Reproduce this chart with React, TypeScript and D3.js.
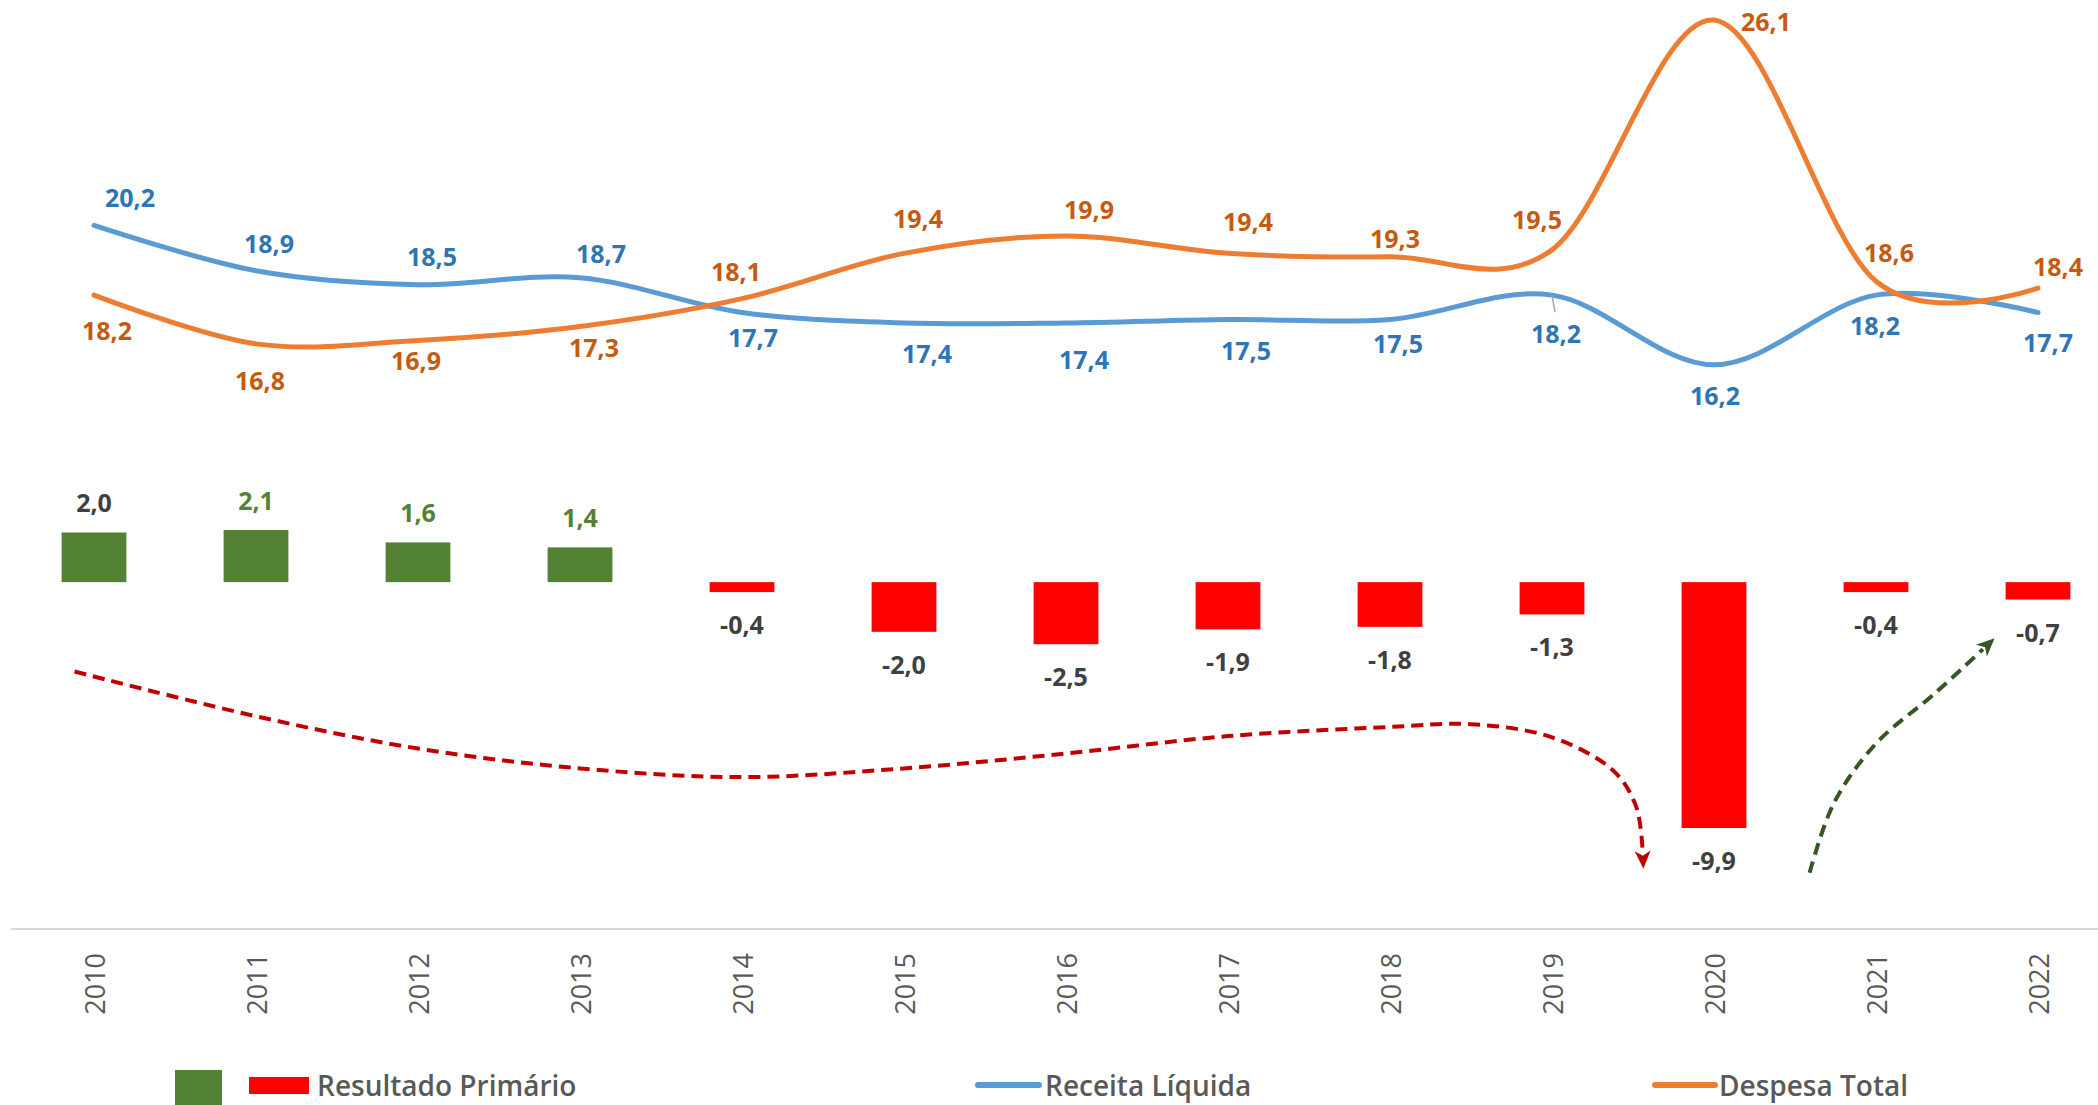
import * as d3 from 'd3';

/* ── data ── */
const years = ['2010', '2011', '2012', '2013', '2014', '2015', '2016', '2017', '2018', '2019', '2020', '2021', '2022'];
const receita = [20.2, 18.9, 18.5, 18.7, 17.7, 17.4, 17.4, 17.5, 17.5, 18.2, 16.2, 18.2, 17.7];
const despesa = [18.2, 16.8, 16.9, 17.3, 18.1, 19.4, 19.9, 19.4, 19.3, 19.5, 26.1, 18.6, 18.4];
const resultado = [2.0, 2.1, 1.6, 1.4, -0.4, -2.0, -2.5, -1.9, -1.8, -1.3, -9.9, -0.4, -0.7];

/* label nudges (px) relative to each point, as placed in the original */
const receitaLabelOff = [[36, -28], [13, -28], [14, -29], [21, -25], [11, 24], [23, 30], [18, 36], [18, 30], [8, 23], [4, 38], [1, 30], [-1, 30], [10, 29]];
const despesaLabelOff = [[13, 35], [4, 36], [-2, 20], [14, 21], [-6, -28], [14, -35], [23, -27], [20, -32], [5, -19], [-15, -31], [52, 1], [13, -29], [20, -22]];

/* annotation arrows: [category index, primary-result units] */
const redArrow = [[-0.12, -3.6], [1, -5.4], [2, -6.7], [3, -7.5], [4, -7.85], [5, -7.5], [6, -6.9], [7, -6.2], [8, -5.83], [8.5, -5.72], [9, -6.25], [9.38, -7.6], [9.52, -9.05], [9.56, -10.9]];
const greenArrow = [[10.59, -11.7], [10.74, -8.9], [11.0, -6.5], [11.36, -4.5], [11.66, -2.7]];

const W = 2098, H = 1105;
const C = {
  blue: '#5b9bd5', blueTxt: '#2e75b6',
  orange: '#ed7d31', orangeTxt: '#c55a11',
  green: '#548235', red: '#ff0000', dark: '#404040', axis: '#595959',
};
const fmt = d3.formatLocale({ decimal: ',', thousands: '.', grouping: [3], currency: ['R$', ''], minus: '-' }).format('.1f');

export default function App() {
  const x = d3.scaleBand().domain(years).range([13, 2119]).paddingInner(0.6).paddingOuter(0.3);
  const xc = (y: string) => (x(y) as number) + x.bandwidth() / 2;
  const xi = d3.scaleLinear().domain([0, years.length - 1]).range([xc(years[0]), xc(years[years.length - 1])]);
  const yLine = d3.scaleLinear().domain([0, 26.1]).range([929, 20]);
  const yBar = d3.scaleLinear().domain([-9.9, 2.1]).range([828, 530]);

  const line = d3.line<number>().x((_, i) => xc(years[i])).y(d => yLine(d)).curve(d3.curveCardinal.tension(0));
  const arrow = d3.line<number[]>().x(d => xi(d[0])).y(d => yBar(d[1])).curve(d3.curveCatmullRom.alpha(0.5));

  const lbl = { fontFamily: "'Open Sans', sans-serif", fontWeight: 700, fontSize: 25 } as const;
  const reg = { fontFamily: "'Open Sans', sans-serif", fontSize: 27, fill: C.axis } as const;
  const leg = { fontFamily: "'Open Sans', sans-serif", fontSize: 28, fontWeight: 600, fill: C.axis } as const;

  return (
    <svg width={W} height={H} style={{ position: 'absolute', left: 0, top: 0, background: '#fff' }}>
      <defs>
        <marker id="ahRed" viewBox="0 -9 18 18" refX="2" refY="0" markerWidth="18" markerHeight="18" markerUnits="userSpaceOnUse" orient="auto">
          <path d="M0,-8L18,0L0,8L5,0Z" fill="#c00000" />
        </marker>
        <marker id="ahGreen" viewBox="0 -9 18 18" refX="2" refY="0" markerWidth="18" markerHeight="18" markerUnits="userSpaceOnUse" orient="auto">
          <path d="M0,-8L18,0L0,8L5,0Z" fill="#375623" />
        </marker>
      </defs>

      {/* axis */}
      <line x1={11} x2={W} y1={929} y2={929} stroke="#d9d9d9" strokeWidth={2} />
      {years.map(y => (
        <text key={y} transform={`translate(${xc(y)},953) rotate(-90)`} textAnchor="end" dominantBaseline="central" {...reg}>{y}</text>
      ))}

      {/* bars */}
      {resultado.map((v, i) => (
        <rect key={years[i]} x={x(years[i])} width={x.bandwidth()}
          y={Math.min(yBar(v), yBar(0))} height={Math.abs(yBar(v) - yBar(0))}
          fill={v >= 0 ? C.green : C.red} />
      ))}
      {resultado.map((v, i) => (
        <text key={'b' + i} x={xc(years[i])} y={v >= 0 ? yBar(v) - 30 : yBar(v) + 32}
          textAnchor="middle" dominantBaseline="central" {...lbl}
          fill={v >= 0 && i > 0 ? C.green : C.dark}>{fmt(v)}</text>
      ))}

      {/* arrows */}
      <path d={arrow(redArrow) as string} fill="none" stroke="#c00000" strokeWidth={4} strokeDasharray="12 7" markerEnd="url(#ahRed)" />
      <path d={arrow(greenArrow) as string} fill="none" stroke="#375623" strokeWidth={4} strokeDasharray="12 7" markerEnd="url(#ahGreen)" />

      {/* lines */}
      <path d={line(receita) as string} fill="none" stroke={C.blue} strokeWidth={5} strokeLinecap="round" />
      <path d={line(despesa) as string} fill="none" stroke={C.orange} strokeWidth={5} strokeLinecap="round" />

      {/* leader for 2019 receita label */}
      <line x1={xc('2019')} y1={yLine(receita[9])} x2={xc('2019') + 3} y2={yLine(receita[9]) + 17} stroke="#a6a6a6" strokeWidth={1.5} />

      {receita.map((v, i) => (
        <text key={'r' + i} x={xc(years[i]) + receitaLabelOff[i][0]} y={yLine(v) + receitaLabelOff[i][1]}
          textAnchor="middle" dominantBaseline="central" {...lbl} fill={C.blueTxt}>{fmt(v)}</text>
      ))}
      {despesa.map((v, i) => (
        <text key={'d' + i} x={xc(years[i]) + despesaLabelOff[i][0]} y={yLine(v) + despesaLabelOff[i][1]}
          textAnchor="middle" dominantBaseline="central" {...lbl} fill={C.orangeTxt}>{fmt(v)}</text>
      ))}

      {/* legend */}
      <rect x={175} y={1070} width={47} height={40} fill={C.green} />
      <rect x={249} y={1077} width={60} height={17} fill={C.red} />
      <text x={317} y={1085} dominantBaseline="central" {...leg}>Resultado Primário</text>
      <line x1={978} x2={1039} y1={1085} y2={1085} stroke={C.blue} strokeWidth={6} strokeLinecap="round" />
      <text x={1045} y={1085} dominantBaseline="central" {...leg}>Receita Líquida</text>
      <line x1={1655} x2={1715} y1={1085} y2={1085} stroke={C.orange} strokeWidth={6} strokeLinecap="round" />
      <text x={1719} y={1085} dominantBaseline="central" {...leg}>Despesa Total</text>
    </svg>
  );
}
